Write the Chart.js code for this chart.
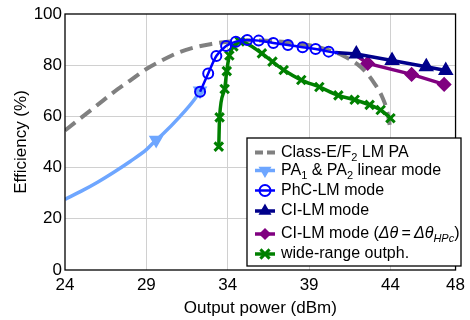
<!DOCTYPE html>
<html>
<head>
<meta charset="utf-8">
<script src="https://cdn.jsdelivr.net/npm/chart.js@4/dist/chart.umd.min.js"></script>
<style>
	html, body { margin: 0; padding: 0; background: #fff; }
</style>
</head>
<body>
<canvas id="chart-efficiency" width="470" height="320"></canvas>
<script>
// Tick labels
const X_TICKS = [24, 29, 34, 39, 44, 48];
const Y_TICKS = [0, 20, 40, 60, 80, 100];

// Class-E/F2 LM PA (dashed reference)
const CLASSE_X = [24, 25, 26, 27, 28, 29, 30, 31, 32, 33, 34, 35, 36, 37, 38, 39, 40, 41, 42, 42.5, 43, 43.5, 43.8, 44];
const CLASSE_Y = [54.5, 59.5, 64.5, 69.5, 74, 78.5, 82, 85, 87, 88.3, 89.2, 89.6, 89.6, 89.3, 88.7, 87.8, 86.3, 84, 80.2, 77.2, 73, 67.5, 62, 55];

// PA1 & PA2 linear mode
const LIN_X = [24, 25, 26, 27, 28, 29, 29.6, 30, 31, 32, 32.3];
const LIN_Y = [27.6, 30.8, 34.3, 38.2, 42.4, 47, 50.8, 53, 59.5, 67, 70];
const LIN_MARKED = [29.6, 32.3];

// PhC-LM mode
const PHC_X = [32.3, 32.8, 33.3, 33.9, 34.5, 35.2, 35.9, 36.8, 37.7, 38.6, 39.4, 40.2, 40.8];
const PHC_Y = [69.6, 76.8, 83.6, 87.5, 89.2, 89.8, 89.6, 88.7, 87.9, 87, 86.3, 85.3, 84.8];
const PHC_MARKED = PHC_X.slice(0, 12);

// CI-LM mode
const CI_X = [40.6, 41.9, 44.1, 46.2, 47.4];
const CI_Y = [85, 84.4, 81.8, 79.4, 77.9];
const CI_MARKED = [41.9, 44.1, 46.2, 47.4];

// CI-LM mode (delta theta = delta theta HPc)
const CIH_X = [41.9, 42.6, 45.3, 47.3];
const CIH_Y = [83.8, 80.7, 76.4, 72.5];
const CIH_MARKED = [42.6, 45.3, 47.3];

// wide-range outphasing
const WR_X = [33.45, 33.5, 33.81, 33.94, 34.1, 34.35, 34.74, 36.1, 36.75, 37.44, 38.52, 39.63, 40.8, 41.8, 42.72, 43.4, 44];
const WR_Y = [48.2, 59.6, 70.7, 77.7, 83.8, 87.3, 89.3, 84.6, 81.4, 78.1, 74.2, 71.5, 68.2, 66.5, 64.5, 62.5, 59.3];

const FONT = "'Liberation Sans', Arial, sans-serif";

const toPoints = (xs, ys) => xs.map((x, i) => ({ x, y: ys[i] }));
const radii = (xs, marked, r) => xs.map((x) => (marked.includes(x) ? r : 0));

// Legend rows, drawn by the plugin below (needs subscripts / italics)
const LEGEND_ROWS = [
	[{ t: "Class-E/F" }, { t: "2", sub: true }, { t: " LM PA" }],
	[{ t: "PA" }, { t: "1", sub: true }, { t: " & PA" }, { t: "2", sub: true }, { t: " linear mode" }],
	[{ t: "PhC-LM mode" }],
	[{ t: "CI-LM mode" }],
	[{ t: "CI-LM mode (" }, { t: "Δθ", it: true }, { t: "\u2009=\u2009" }, { t: "Δθ", it: true }, { t: "HPc", sub: true, it: true }, { t: ")" }],
	[{ t: "wide-range outph." }],
];
const LEGEND_ROW_Y = [14.5, 32.5, 52.5, 73, 96, 116];

const legendBox = {
	id: "legendBox",
	afterDraw(chart) {
		const ctx = chart.ctx;
		const x0 = 247, y0 = 138, w = 214, h = 128;
		ctx.save();
		ctx.fillStyle = "#fff";
		ctx.fillRect(x0, y0, w, h);
		ctx.strokeStyle = "#000";
		ctx.lineWidth = 1.3;
		ctx.strokeRect(x0, y0, w, h);
		LEGEND_ROWS.forEach((parts, i) => {
			const ds = chart.data.datasets[i];
			const y = y0 + LEGEND_ROW_Y[i];
			ctx.strokeStyle = ds.borderColor;
			ctx.lineWidth = ds.borderWidth;
			ctx.setLineDash(ds.borderDash ? [8, 4] : []);
			ctx.beginPath();
			ctx.moveTo(x0 + 8, y);
			ctx.lineTo(x0 + 28, y);
			ctx.stroke();
			ctx.setLineDash([]);
			if (ds.legendPoint) {
				ctx.fillStyle = ds.pointBackgroundColor;
				ctx.strokeStyle = ds.pointBorderColor;
				ctx.lineWidth = ds.pointBorderWidth;
				Chart.helpers.drawPoint(ctx, {
					pointStyle: ds.pointStyle,
					rotation: ds.pointRotation || 0,
					radius: ds.legendPoint,
					borderWidth: ds.pointBorderWidth,
				}, x0 + 18, y);
			}
			let tx = x0 + 34;
			ctx.fillStyle = "#000";
			ctx.textBaseline = "middle";
			parts.forEach((p) => {
				ctx.font = (p.it ? "italic " : "") + (p.sub ? "11px " : "16px ") + FONT;
				ctx.fillText(p.t, tx, y + (p.sub ? 5 : 0));
				tx += ctx.measureText(p.t).width;
			});
		});
		ctx.restore();
	},
};

const frame = {
	id: "frame",
	afterDatasetsDraw(chart) {
		const { left, top, width, height } = chart.chartArea;
		const ctx = chart.ctx;
		ctx.save();
		ctx.strokeStyle = "#000";
		ctx.lineWidth = 1.3;
		ctx.strokeRect(left, top, width, height);
		ctx.restore();
	},
};

const DATA = {
	datasets: [
		{
			label: "Class-E/F2 LM PA",
			data: toPoints(CLASSE_X, CLASSE_Y),
			borderColor: "#808080",
			borderWidth: 4,
			borderDash: [13, 7],
			pointRadius: 0,
			cubicInterpolationMode: "monotone",
			order: 6,
		},
		{
			label: "PA1 & PA2 linear mode",
			data: toPoints(LIN_X, LIN_Y),
			borderColor: "#6ea6ff",
			borderWidth: 3.5,
			pointStyle: "triangle",
			pointRotation: 180,
			pointRadius: radii(LIN_X, LIN_MARKED, 7),
			pointBackgroundColor: "#6ea6ff",
			pointBorderColor: "#6ea6ff",
			pointBorderWidth: 1.5,
			legendPoint: 6,
			cubicInterpolationMode: "monotone",
			order: 5,
		},
		{
			label: "PhC-LM mode",
			data: toPoints(PHC_X, PHC_Y),
			borderColor: "#0000ff",
			borderWidth: 2.5,
			pointStyle: "circle",
			pointRadius: radii(PHC_X, PHC_MARKED, 5),
			pointBackgroundColor: "rgba(255,255,255,0)",
			pointBorderColor: "#0000ff",
			pointBorderWidth: 2,
			legendPoint: 5.5,
			cubicInterpolationMode: "monotone",
			order: 1,
		},
		{
			label: "CI-LM mode",
			data: toPoints(CI_X, CI_Y),
			borderColor: "#00008b",
			borderWidth: 3.5,
			pointStyle: "triangle",
			pointRadius: radii(CI_X, CI_MARKED, 7.5),
			pointBackgroundColor: "#00008b",
			pointBorderColor: "#00008b",
			pointBorderWidth: 1.5,
			legendPoint: 6,
			order: 2,
		},
		{
			label: "CI-LM mode (Δθ = ΔθHPc)",
			data: toPoints(CIH_X, CIH_Y),
			borderColor: "#800080",
			borderWidth: 3.5,
			pointStyle: "rectRot",
			pointRadius: radii(CIH_X, CIH_MARKED, 6.5),
			pointBackgroundColor: "#800080",
			pointBorderColor: "#800080",
			pointBorderWidth: 1.5,
			legendPoint: 5,
			order: 3,
		},
		{
			label: "wide-range outph.",
			data: toPoints(WR_X, WR_Y),
			borderColor: "#008000",
			borderWidth: 3.5,
			pointStyle: "crossRot",
			pointRadius: 6,
			pointBackgroundColor: "#008000",
			pointBorderColor: "#008000",
			pointBorderWidth: 3,
			legendPoint: 6.5,
			cubicInterpolationMode: "monotone",
			order: 4,
		},
	],
};

const CONFIG = {
	type: "line",
	data: DATA,
	options: {
		responsive: false,
		animation: false,
		layout: { padding: { top: 14, right: 5, left: 0, bottom: 0 } },
		plugins: {
			legend: { display: false },
			tooltip: { enabled: false },
		},
		scales: {
			x: {
				type: "linear",
				min: 24,
				max: 48,
				afterBuildTicks: (scale) => {
					scale.ticks = X_TICKS.map((value) => ({ value }));
				},
				afterFit: (scale) => {
					scale.height = 50;
				},
				grid: {
					drawTicks: false,
					color: (ctx) => (ctx.tick && ctx.tick.value > 24 && ctx.tick.value < 48 ? "#d0d0d0" : "rgba(0,0,0,0)"),
				},
				border: { display: false },
				ticks: {
					color: "#000",
					padding: 5,
					maxRotation: 0,
					autoSkip: false,
					font: { family: FONT, size: 17 },
				},
				title: {
					display: true,
					text: "Output power (dBm)",
					color: "#000",
					font: { family: FONT, size: 17 },
					padding: { top: 0, bottom: 1 },
				},
			},
			y: {
				min: 0,
				max: 100,
				afterBuildTicks: (scale) => {
					scale.ticks = Y_TICKS.map((value) => ({ value }));
				},
				afterFit: (scale) => {
					scale.width = 65;
				},
				grid: {
					drawTicks: false,
					color: (ctx) => (ctx.tick && ctx.tick.value > 0 && ctx.tick.value < 100 ? "#d0d0d0" : "rgba(0,0,0,0)"),
				},
				border: { display: false },
				ticks: {
					color: "#000",
					padding: 3,
					font: { family: FONT, size: 17 },
				},
				title: {
					display: true,
					text: "Efficiency (%)",
					color: "#000",
					font: { family: FONT, size: 17 },
					padding: { top: 11, bottom: 0 },
				},
			},
		},
	},
	plugins: [frame, legendBox],
};

const WRAPPER = document.getElementById("chart-efficiency");
if (WRAPPER) {
	new Chart(WRAPPER, CONFIG);
}
</script>
</body>
</html>
